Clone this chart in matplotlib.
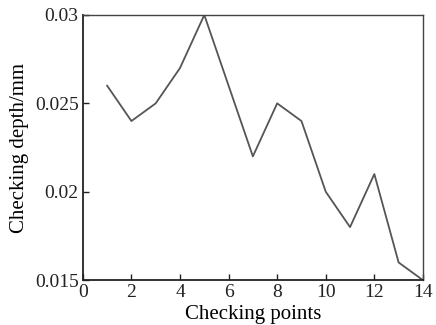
import matplotlib
matplotlib.use("Agg")
import matplotlib.pyplot as plt

x_points = [1, 2, 3, 4, 5, 6, 7, 8, 9, 10, 11, 12, 13, 14]
depth = [0.026, 0.024, 0.025, 0.027, 0.030, 0.026, 0.022, 0.025, 0.024, 0.020, 0.018, 0.021, 0.016, 0.015]
x_ticks = [0, 2, 4, 6, 8, 10, 12, 14]
y_ticks = [0.015, 0.02, 0.025, 0.03]
y_tick_labels = ["0.015", "0.02", "0.025", "0.03"]

plt.rcParams['font.family'] = ['Liberation Serif', 'DejaVu Serif']

fig = plt.figure(figsize=(4.36, 3.25), dpi=100)
ax = fig.add_axes([0.190, 0.138, 0.780, 0.816])
ax.plot(x_points, depth, color='#555555', linewidth=1.3)
ax.set_xlim(0, 14)
ax.set_ylim(0.015, 0.03)
ax.set_xticks(x_ticks)
ax.set_yticks(y_ticks)
ax.set_yticklabels(y_tick_labels)
ax.tick_params(direction='in', length=4, width=1, labelsize=14, pad=3, colors='#222222')
for s in ['left', 'bottom']:
    ax.spines[s].set_linewidth(1.3)
    ax.spines[s].set_color('#222222')
for s in ['top', 'right']:
    ax.spines[s].set_linewidth(1.0)
    ax.spines[s].set_color('#444444')
ax.set_xlabel('Checking points', fontsize=15, labelpad=3)
ax.set_ylabel('Checking depth/mm', fontsize=15, labelpad=4)
fig.savefig('out.png', dpi=100)
